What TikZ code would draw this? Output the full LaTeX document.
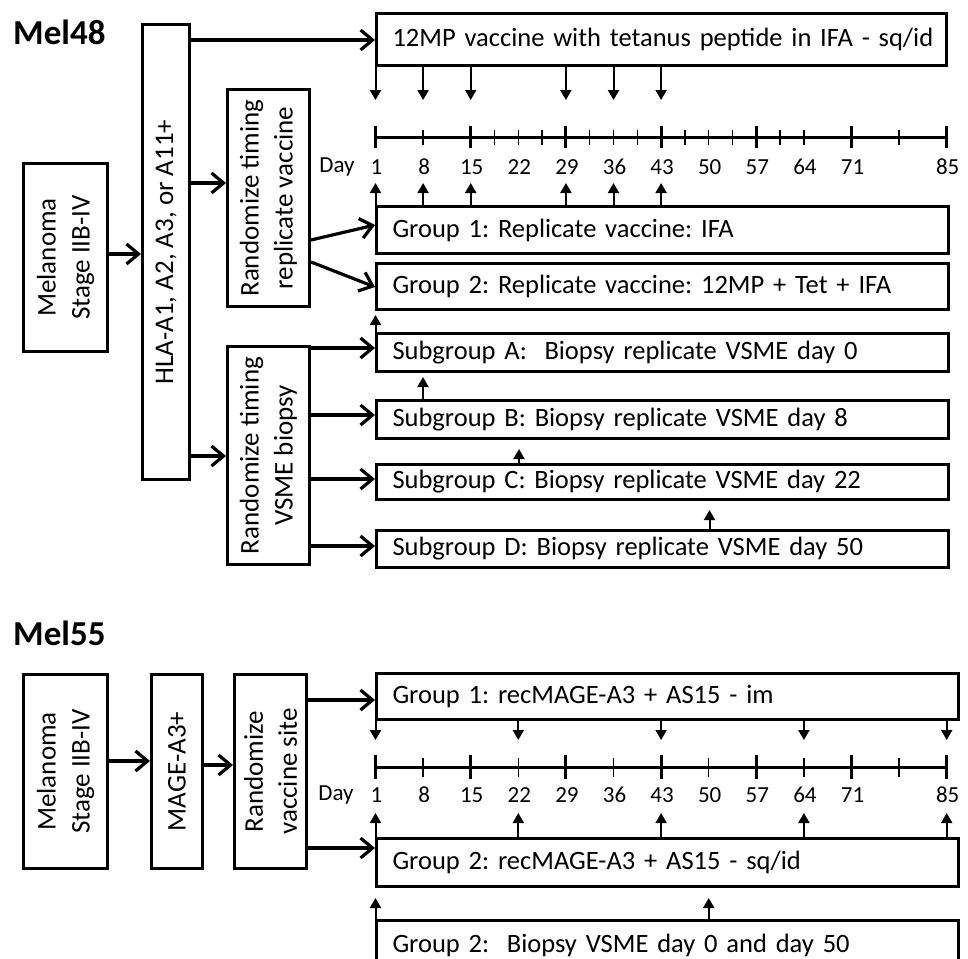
\documentclass[tikz,border=0pt]{standalone}
\usepackage{fontspec}
\setmainfont{Carlito}
\frenchspacing
\usetikzlibrary{arrows.meta}
\begin{document}
\begin{tikzpicture}[x=1pt,y=-1pt,
  bx/.style={draw, line width=3pt, inner sep=0pt, anchor=north west},
  wtxt/.style={draw, line width=3pt, anchor=north west, inner xsep=16pt, inner ysep=0pt, align=left, font=\fontsize{26.5}{30}\selectfont},
  rtxt/.style={rotate=90, align=center, inner sep=0pt, font=\fontsize{27}{34}\selectfont},
  conn/.style={line width=3.2pt, -{Straight Barb[length=12pt,width=20pt]}},
  tarr/.style={line width=2pt, -{Triangle[length=10pt,width=11pt]}},
  daylab/.style={font=\fontsize{23}{26}\selectfont, inner sep=0pt},
  ttl/.style={font=\fontsize{35}{40}\selectfont\bfseries, anchor=base west, inner sep=0pt},
  majt/.style={line width=3pt},
  mint/.style={line width=1.5pt},
]
\useasboundingbox (0,0) rectangle (968,958);
\clip (0,0) rectangle (968,958);

%%%%%%%%%%%%%%%% Mel48 %%%%%%%%%%%%%%%%
\node[ttl] (t48) at (13,45) {Mel48};

\node[bx, minimum width=84pt, minimum height=188pt] (mela) at (22,162) {};
\node[rtxt] (melat) at (mela.center) {Melanoma\\Stage IIB-IV};

\node[bx, minimum width=47pt, minimum height=455pt] (hla) at (141,23) {};
\node[rtxt] (hlat) at (hla.center) {HLA-A1, A2, A3, or A11+};

\node[bx, minimum width=82pt, minimum height=217pt] (rrv) at (226,88) {};
\node[rtxt] (rrvt) at (rrv.center) {Randomize timing\\replicate vaccine};

\node[bx, minimum width=82pt, minimum height=218pt] (rvb) at (226,345) {};
\node[rtxt] (rvbt) at (rvb.center) {Randomize timing\\VSME biopsy};

\node[wtxt, text width=538pt, minimum height=52pt] (vac) at (375,12) {\mbox{12MP vaccine with tetanus peptide in IFA - sq/id}};
\node[wtxt, text width=540pt, minimum height=47pt] (g1) at (375,205) {Group 1: Replicate vaccine: IFA};
\node[wtxt, text width=540pt, minimum height=46pt] (g2) at (375,262) {Group 2: Replicate vaccine: 12MP + Tet + IFA};
\node[wtxt, text width=540pt, minimum height=38pt] (sga) at (375,332) {Subgroup A:\ \ Biopsy replicate VSME day 0};
\node[wtxt, text width=540pt, minimum height=38pt] (sgb) at (375,399) {Subgroup B: Biopsy replicate VSME day 8};
\node[wtxt, text width=540pt, minimum height=35pt] (sgc) at (375,463) {Subgroup C: Biopsy replicate VSME day 22};
\node[wtxt, text width=540pt, minimum height=37pt] (sgd) at (375,529) {Subgroup D: Biopsy replicate VSME day 50};

% connectors
\draw[conn] (mela.east |- 0,254) -- (hla.west |- 0,254);
\draw[conn] (hla.east |- 0,40) -- (vac.west |- 0,40);
\draw[conn] (hla.east |- 0,183) -- (rrv.west |- 0,183);
\draw[conn] (hla.east |- 0,456) -- (rvb.west |- 0,456);
\draw[conn] (rrv.east |- 0,240) -- (g1.west |- 0,225);
\draw[conn] (rrv.east |- 0,262) -- (g2.west |- 0,287);
\draw[conn] (rvb.east |- 0,348) -- (sga.west |- 0,348);
\draw[conn] (rvb.east |- 0,415) -- (sgb.west |- 0,415);
\draw[conn] (rvb.east |- 0,479) -- (sgc.west |- 0,479);
\draw[conn] (rvb.east |- 0,546) -- (sgd.west |- 0,546);

% biopsy subgroup arrows
\draw[tarr, shorten >=4pt] (sga.north -| 375.5,0) -- (g2.south -| 375.5,0);
\draw[tarr, shorten >=4pt] (sgb.north -| 423,0) -- (sga.south -| 423,0);
\draw[tarr, shorten >=9pt] (sgc.north -| 519,0) -- (sgb.south -| 519,0);
\draw[tarr, shorten >=9pt] (sgd.north -| 709.5,0) -- (sgc.south -| 709.5,0);

% timeline Mel48
\coordinate (a48l) at (375.5,137);
\coordinate (a48r) at (946.7,137);
\draw[line width=3pt] (a48l) -- (a48r);
\foreach \d in {1,15,29,43,57,71,85}{
  \pgfmathsetmacro\xx{375.5+(\d-1)*6.8}
  \draw[majt] (\xx,126) -- (\xx,148);}
\foreach \d in {8,18.5,22,25.5,32.5,36,39.5,46.5,50,53.5,60.5,64,78}{
  \pgfmathsetmacro\xx{375.5+(\d-1)*6.8}
  \draw[mint] (\xx,130) -- (\xx,145);}
\node[daylab] (day48) at (337,167) {Day};
\foreach \d in {1,8,15,22,29,36,43,50,57,64,71,85}{
  \pgfmathsetmacro\xx{375.5+(\d-1)*6.8}
  \node[daylab] (l48d\d) at (\xx+1,167) {\d};}
\foreach \d in {1,8,15,29,36,43}{
  \pgfmathsetmacro\xx{375.5+(\d-1)*6.8}
  \draw[tarr] (vac.south -| \xx,0) -- (\xx,100);
  \draw[tarr] (g1.north -| \xx,0) -- (\xx,183);}

%%%%%%%%%%%%%%%% Mel55 %%%%%%%%%%%%%%%%
\node[ttl] (t55) at (13,645) {Mel55};

\node[bx, minimum width=84pt, minimum height=194pt] (melb) at (22,673) {};
\node[rtxt] (melbt) at (melb.center) {Melanoma\\Stage IIB-IV};

\node[bx, minimum width=51pt, minimum height=194pt] (mage) at (150,673) {};
\node[rtxt] (maget) at (mage.center) {MAGE-A3+};

\node[bx, minimum width=72pt, minimum height=194pt] (rvs) at (233,673) {};
\node[rtxt] (rvst) at (rvs.center) {Randomize\\vaccine site};

\node[wtxt, text width=550pt, minimum height=46pt] (mg1) at (375,672) {Group 1: recMAGE-A3 + AS15 - im};
\node[wtxt, text width=550pt, minimum height=48pt] (mg2) at (375,837) {Group 2: recMAGE-A3 + AS15 - sq/id};
\node[wtxt, text width=550pt, minimum height=50pt] (bio) at (375,919) {Group 2:\ \ Biopsy VSME day 0 and day 50};

\draw[conn] (melb.east |- 0,761) -- (mage.west |- 0,761);
\draw[conn] (mage.east |- 0,765) -- (rvs.west |- 0,765);
\draw[conn] (rvs.east |- 0,700) -- (mg1.west |- 0,700);
\draw[conn] (rvs.east |- 0,848) -- (mg2.west |- 0,848);

% timeline Mel55
\coordinate (a55l) at (375.5,767);
\coordinate (a55r) at (946.7,767);
\draw[line width=3pt] (a55l) -- (a55r);
\foreach \d in {1,15,29,43,57,71,85}{
  \pgfmathsetmacro\xx{375.5+(\d-1)*6.8}
  \draw[majt] (\xx,755) -- (\xx,779);}
\foreach \d in {8,22,36,50,64,78}{
  \pgfmathsetmacro\xx{375.5+(\d-1)*6.8}
  \draw[mint] (\xx,758) -- (\xx,777);}
\node[daylab] (day55) at (336,795) {Day};
\foreach \d in {1,8,15,22,29,36,43,50,57,64,71,85}{
  \pgfmathsetmacro\xx{375.5+(\d-1)*6.8}
  \node[daylab] (l55d\d) at (\xx+1,795) {\d};}
\foreach \d in {1,22,43,64,85}{
  \pgfmathsetmacro\xx{375.5+(\d-1)*6.8}
  \draw[tarr] (mg1.south -| \xx,0) -- (\xx,740);
  \draw[tarr] (mg2.north -| \xx,0) -- (\xx,813);}
\foreach \d in {1,50}{
  \pgfmathsetmacro\xx{375.5+(\d-1)*6.8}
  \draw[tarr] (bio.north -| \xx,0) -- (\xx,898);}
\end{tikzpicture}
\end{document}
